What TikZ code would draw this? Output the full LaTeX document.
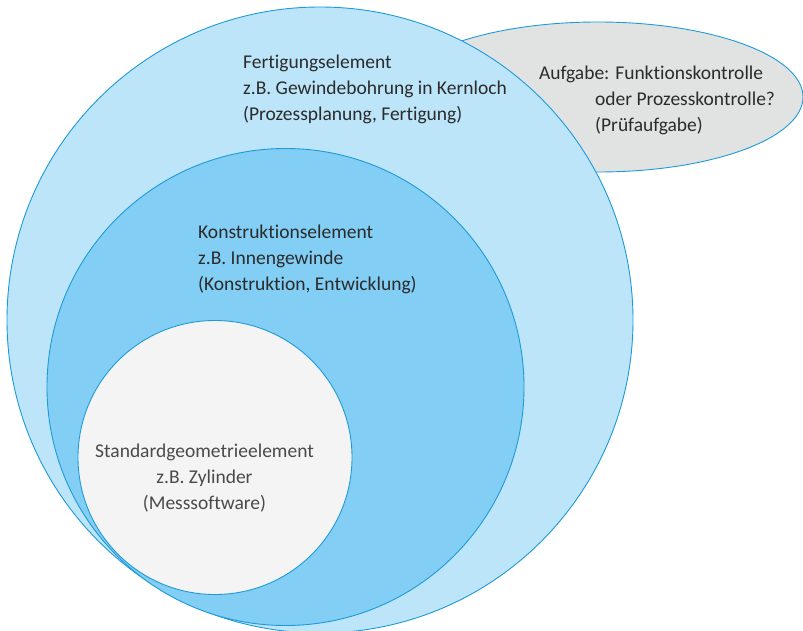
\documentclass[tikz,border=0pt]{standalone}
\usepackage{fontspec}
\setmainfont{Carlito}[Ligatures=NoCommon]
\usepackage{tikz}
\usetikzlibrary{positioning}
\usepackage{xcolor}
\definecolor{outline}{HTML}{1E9BD7}
\definecolor{outer}{HTML}{BDE5F9}
\definecolor{middle}{HTML}{82CEF4}
\definecolor{inner}{HTML}{F4F4F4}
\definecolor{task}{HTML}{E1E3E3}
\definecolor{ink}{HTML}{2B2B2B}
\definecolor{inkgray}{HTML}{4A4A4A}
\tikzset{
    zone/.style={
        draw=outline,
        line width=0.9pt
    },
    label/.style={
        font=\fontsize{19.5}{26}\selectfont,
        color=ink,
        inner sep=0pt,
        anchor=base west,
        align=left
    }
}

\begin{document}
\begin{tikzpicture}[x=1pt,y=-1pt]

    \useasboundingbox (0,0) rectangle (803,631);

    % Aufgabe (hinter dem grossen Kreis)
    \draw[zone,fill=task]
        (598,97) ellipse [x radius=205pt, y radius=75pt];

    % Fertigungselement
    \draw[zone,fill=outer]
        (320,320) circle [radius=313pt];

    % Konstruktionselement
    \draw[zone,fill=middle]
        (285.5,387) circle [radius=238.5pt];

    % Standardgeometrieelement
    \draw[zone,fill=inner]
        (215,457.5) circle [radius=137pt];

    % Texte (Anker: Grundlinie der letzten Zeile)
    \node[label] (fertigung)
        at (243,121)
        {Fertigungselement\\
         z.B. Gewindebohrung in Kernloch\\
         (Prozessplanung, Fertigung)};

    \node[label] (aufgabe)
        at (539,132)
        {Aufgabe: Funktionskontrolle\\
         \hspace*{56pt}oder Prozesskontrolle?\\
         \hspace*{56pt}(Prüfaufgabe)};

    \node[label] (konstruktion)
        at (198,290)
        {Konstruktionselement\\
         z.B. Innengewinde\\
         (Konstruktion, Entwicklung)};

    \node[
        label,
        color=inkgray,
        anchor=base,
        align=center
    ] (standard)
        at (204.5,509)
        {Standardgeometrieelement\\
         z.B. Zylinder\\
         (Messsoftware)};

\end{tikzpicture}
\end{document}
